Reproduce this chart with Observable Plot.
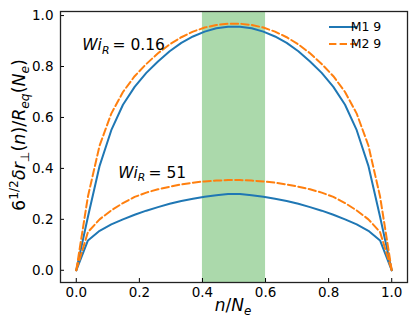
<!DOCTYPE html>
<html><head><meta charset="utf-8">
<script src="https://cdn.jsdelivr.net/npm/d3@7"></script>
<script src="https://cdn.jsdelivr.net/npm/@observablehq/plot@0.6"></script>
<style>
body{margin:0;background:#fff}
#chart{position:relative;width:416px;height:328px}
</style>
</head><body><div id="chart"></div>
<script>
// chain position n/N_e
const nPos = [0, 0.037, 0.074, 0.111, 0.148, 0.185, 0.222, 0.259, 0.296, 0.333, 0.370, 0.407, 0.444, 0.481,
              0.519, 0.556, 0.593, 0.630, 0.667, 0.704, 0.741, 0.778, 0.815, 0.852, 0.889, 0.926, 0.963, 1];
// M1 9, Wi_R = 0.16
const m1Low = [0, 0.21, 0.41, 0.55, 0.65, 0.72, 0.775, 0.82, 0.86, 0.893, 0.918, 0.937, 0.95, 0.956,
               0.956, 0.95, 0.937, 0.918, 0.893, 0.86, 0.82, 0.775, 0.72, 0.65, 0.55, 0.41, 0.21, 0];
// M2 9, Wi_R = 0.16
const m2Low = [0, 0.29, 0.49, 0.615, 0.70, 0.762, 0.81, 0.852, 0.887, 0.915, 0.937, 0.953, 0.963, 0.968,
               0.968, 0.963, 0.953, 0.937, 0.915, 0.887, 0.852, 0.81, 0.762, 0.70, 0.615, 0.49, 0.29, 0];
// M1 9, Wi_R = 51
const m1High = [0, 0.117, 0.155, 0.18, 0.20, 0.218, 0.234, 0.248, 0.261, 0.272, 0.281, 0.289, 0.295, 0.299,
                0.299, 0.295, 0.289, 0.281, 0.272, 0.261, 0.248, 0.234, 0.218, 0.20, 0.18, 0.155, 0.117, 0];
// M2 9, Wi_R = 51
const m2High = [0, 0.15, 0.20, 0.235, 0.264, 0.288, 0.305, 0.318, 0.328, 0.337, 0.344, 0.349, 0.352, 0.354,
                0.354, 0.352, 0.349, 0.344, 0.337, 0.328, 0.318, 0.305, 0.288, 0.264, 0.235, 0.20, 0.15, 0];

const xTicks = [0, 0.2, 0.4, 0.6, 0.8, 1.0];
const yTicks = [0, 0.2, 0.4, 0.6, 0.8, 1.0];
const band = [{x1: 0.4, x2: 0.6}];
const notes = [{x: 0.019, y: 0.882, value: "0.16"}, {x: 0.133, y: 0.383, value: "51"}];
const legendLabels = ["M1 9", "M2 9"];
const colors = {"M1 9": "#1f77b4", "M2 9": "#ff7f0e"};

const rows = [];
const addSeries = (vals, model, wi) => vals.forEach((v, i) => rows.push({n: nPos[i], v, model, curve: model + " " + wi}));
addSeries(m1Low, "M1 9", "0.16");
addSeries(m2Low, "M2 9", "0.16");
addSeries(m1High, "M1 9", "51");
addSeries(m2High, "M2 9", "51");

const FONT = "DejaVu Sans";
const plot = Plot.plot({
  width: 416, height: 328,
  marginLeft: 60, marginRight: 9, marginTop: 11, marginBottom: 46,
  style: {fontFamily: FONT, fontSize: "13px", color: "#000", background: "#fff"},
  x: {domain: [-0.05, 1.05], label: null},
  y: {domain: [-0.048, 1.016], label: null},
  marks: [
    Plot.rect(band, {x1: "x1", x2: "x2", fill: "#2ca02c", fillOpacity: 0.4}),
    Plot.line(rows.filter(d => d.model === "M1 9"), {x: "n", y: "v", z: "curve", stroke: colors["M1 9"], strokeWidth: 2}),
    Plot.line(rows.filter(d => d.model === "M2 9"), {x: "n", y: "v", z: "curve", stroke: colors["M2 9"], strokeWidth: 2, strokeDasharray: "7.4,3.2"}),
    Plot.text(notes, {x: "x", y: "y", text: d => "NOTE:" + d.value, textAnchor: "start", fontSize: 15, fill: "#000"}),
    Plot.axisX({ticks: xTicks, tickFormat: d3.format(".1f"), tickSize: -4, tickPadding: 9, label: null, stroke: "#000", fontSize: 13.5, fill: "#000"}),
    Plot.axisY({ticks: yTicks, tickFormat: d3.format(".1f"), tickSize: -4, tickPadding: 11, label: null, stroke: "#000", fontSize: 13.5, fill: "#000"}),
    Plot.frame({stroke: "#222", strokeWidth: 1.3})
  ]
});
document.getElementById("chart").appendChild(plot);

const svg = d3.select(plot);
function rich(textSel, parts, size) {
  textSel.text(null);
  let shift = 0;
  parts.forEach(p => {
    const ts = textSel.append("tspan").text(p.t);
    let target = 0, fs = size;
    if (p.sub) { target = 0.22 * size; fs = size * 0.7; }
    if (p.sup) { target = -0.4 * size; fs = size * 0.7; }
    ts.attr("font-size", fs);
    if (p.it) ts.attr("font-style", "italic");
    const dy = target - shift;
    if (dy !== 0) ts.attr("dy", dy);
    shift = target;
  });
}
// annotations
svg.selectAll("text").filter(function() { return this.textContent.startsWith("NOTE:"); }).each(function() {
  const val = this.textContent.slice(5);
  rich(d3.select(this), [{t: "Wi", it: true}, {t: "R", it: true, sub: true}, {t: "\u2009= " + val}], 15.5);
});

// y-axis label
const yl = svg.append("text").attr("transform", "translate(25,135) rotate(-90)")
  .attr("text-anchor", "middle").attr("font-family", FONT).attr("fill", "#000");
rich(yl, [{t: "6"}, {t: "1/2", sup: true}, {t: "\u03b4r", it: true}, {t: "\u22a5", sub: true},
          {t: "("}, {t: "n", it: true}, {t: ")/"}, {t: "R", it: true}, {t: "eq", it: true, sub: true},
          {t: "("}, {t: "N", it: true}, {t: "e", it: true, sub: true}, {t: ")"}], 17.5);

// x-axis label
const xl = svg.append("text").attr("x", 233).attr("y", 311)
  .attr("text-anchor", "middle").attr("font-family", FONT).attr("fill", "#000");
rich(xl, [{t: "n", it: true}, {t: "/"}, {t: "N", it: true}, {t: "e", it: true, sub: true}], 17);

// legend
const lg = svg.append("g").attr("font-family", FONT).attr("font-size", 12.5);
legendLabels.forEach((lab, i) => {
  const y = 27 + i * 17;
  lg.append("line").attr("x1", 329).attr("x2", 357).attr("y1", y).attr("y2", y)
    .attr("stroke", colors[lab]).attr("stroke-width", 2)
    .attr("stroke-dasharray", i === 1 ? "7.4,3.2" : null);
  lg.append("text").attr("x", 366).attr("y", y).attr("dy", "0.35em").attr("fill", "#000").text(lab);
});
</script>
</body></html>
